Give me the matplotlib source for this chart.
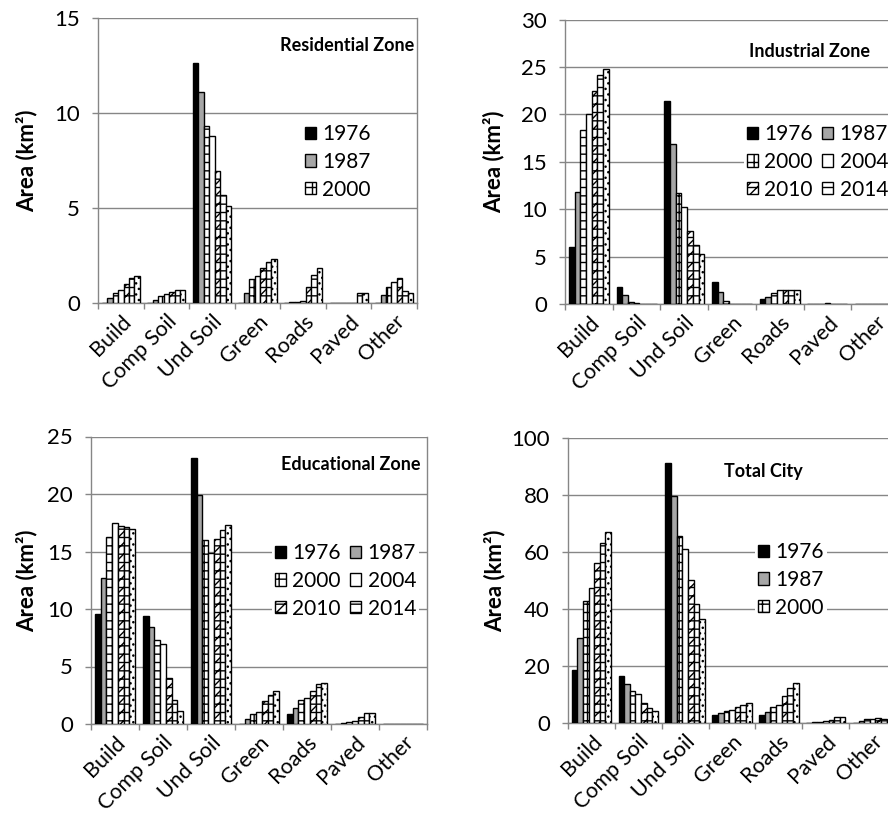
import matplotlib
matplotlib.use("Agg")
import matplotlib.pyplot as plt
from matplotlib.patches import Rectangle
import numpy as np

plt.rcParams['font.family'] = ['Lato', 'DejaVu Sans']
plt.rcParams['hatch.linewidth'] = 1.0

categories = ["Build", "Comp Soil", "Und Soil", "Green", "Roads", "Paved", "Other"]
years = ["1976", "1987", "2000", "2004", "2010", "2014", "2016"]

# values per category, one list per year (km2)
residential = {
    "1976": [0.0, 0.0, 12.64, 0.0, 0.02, 0.0, 0.0],
    "1987": [0.25, 0.18, 11.1, 0.53, 0.03, 0.0, 0.42],
    "2000": [0.53, 0.39, 9.3, 1.27, 0.05, 0.0, 0.86],
    "2004": [0.69, 0.47, 8.77, 1.4, 0.08, 0.0, 1.12],
    "2010": [1.0, 0.6, 6.94, 1.82, 0.82, 0.0, 1.3],
    "2014": [1.32, 0.69, 5.71, 2.18, 1.47, 0.55, 0.65],
    "2016": [1.44, 0.69, 5.13, 2.3, 1.82, 0.55, 0.51],
}
industrial = {
    "1976": [5.96, 1.75, 21.4, 2.35, 0.5, 0.0, 0.0],
    "1987": [11.8, 0.95, 16.9, 1.3, 0.77, 0.0, 0.0],
    "2000": [18.3, 0.2, 11.75, 0.35, 1.2, 0.0, 0.0],
    "2004": [20.0, 0.07, 10.25, 0.05, 1.45, 0.1, 0.0],
    "2010": [22.5, 0.05, 7.7, 0.05, 1.47, 0.0, 0.0],
    "2014": [24.1, 0.05, 6.2, 0.05, 1.47, 0.0, 0.0],
    "2016": [24.8, 0.05, 5.3, 0.05, 1.47, 0.0, 0.0],
}
educational = {
    "1976": [9.6, 9.36, 23.1, 0.0, 0.84, 0.0, 0.0],
    "1987": [12.7, 8.4, 19.9, 0.43, 1.36, 0.06, 0.0],
    "2000": [16.3, 7.28, 16.0, 0.87, 2.1, 0.2, 0.0],
    "2004": [17.5, 6.96, 14.9, 1.04, 2.3, 0.3, 0.0],
    "2010": [17.2, 4.0, 16.1, 1.97, 2.87, 0.64, 0.0],
    "2014": [17.1, 2.06, 16.9, 2.55, 3.45, 0.93, 0.0],
    "2016": [17.0, 1.1, 17.3, 2.84, 3.6, 1.0, 0.0],
}
total_city = {
    "1976": [18.75, 16.5, 91.2, 2.8, 2.8, 0.0, 0.0],
    "1987": [29.7, 13.8, 79.8, 3.4, 4.0, 0.2, 0.8],
    "2000": [42.8, 11.25, 65.6, 4.3, 5.7, 0.4, 1.3],
    "2004": [47.2, 10.3, 61.1, 4.56, 6.3, 0.7, 1.3],
    "2010": [56.3, 7.15, 50.2, 5.5, 9.6, 1.05, 1.75],
    "2014": [63.3, 5.3, 41.7, 6.3, 12.4, 2.2, 1.3],
    "2016": [66.9, 4.1, 36.5, 6.9, 13.9, 2.2, 0.8],
}

styles = {
    "1976": dict(facecolor="black", hatch=None),
    "1987": dict(facecolor="#a6a6a6", hatch=None),
    "2000": dict(facecolor="white", hatch="++"),
    "2004": dict(facecolor="white", hatch=None),
    "2010": dict(facecolor="white", hatch="///--"),
    "2014": dict(facecolor="white", hatch="--"),
    "2016": dict(facecolor="white", hatch="..."),
}

W, H = 888, 823
fig = plt.figure(figsize=(W / 100, H / 100), dpi=100)

GRAY = "#868686"
XFS = 15.5
YFS = 16
LFS = 15

panels = [
    (residential, "Residential Zone", (98, 417, 18, 303), 15, 5, (0.99, 0.905), "right", 1, 3, (302, 162), -0.19),
    (industrial, "Industrial Zone", (565, 899, 19.5, 304), 30, 5, (0.913, 0.886), "right", 2, 6, (744, 162), -0.18),
    (educational, "Educational Zone", (91, 427, 436.5, 724), 25, 5, (0.982, 0.904), "right", 2, 6, (272, 581), -0.16),
    (total_city, "Total City", (568, 896, 438, 723), 100, 20, (0.595, 0.881), "center", 1, 3, (755, 580), -0.19),
]

x = np.arange(len(categories))
w = 0.12

for data, title, (l, r, t, b), ymax, ystep, tpos, tha, ncol, nleg, (lx, ly), ylx in panels:
    ax = fig.add_axes([l / W, 1 - b / H, (r - l) / W, (b - t) / H])
    handles = []
    for j, yr in enumerate(years):
        st = styles[yr]
        ax.bar(x + (j - 3) * w, data[yr], width=w, facecolor=st["facecolor"],
               edgecolor="black", linewidth=1.0, hatch=st["hatch"], zorder=3)
        handles.append(Rectangle((0, 0), 1, 1, facecolor=st["facecolor"], edgecolor="black",
                                 linewidth=1.0, hatch=st["hatch"]))
    ax.set_xlim(-0.5, len(categories) - 0.5)
    ax.set_ylim(0, ymax)
    ax.set_yticks(np.arange(0, ymax + 0.1, ystep))
    ax.yaxis.grid(True, color=GRAY, linewidth=1.0, zorder=0)
    ax.set_axisbelow(True)
    for s in ["left", "bottom", "right"]:
        ax.spines[s].set_color(GRAY)
        ax.spines[s].set_linewidth(1.0)
    ax.spines["top"].set_visible(False)
    ax.set_xticks(x)
    ax.set_xticklabels(categories, rotation=45, ha="right", rotation_mode="anchor", fontsize=XFS)
    ax.tick_params(axis="x", which="major", length=0, pad=6)
    ax.set_xticks(np.arange(-0.5, len(categories)), minor=True)
    ax.tick_params(axis="x", which="minor", length=4, color=GRAY, width=1)
    ax.tick_params(axis="y", length=4, color=GRAY, width=1, labelsize=YFS, pad=9)
    ax.set_ylabel("Area (km²)", fontsize=16, fontweight="bold")
    ax.yaxis.set_label_coords(ylx, 0.5)
    ax.text(tpos[0], tpos[1], title, transform=ax.transAxes, ha=tha, va="center",
            fontsize=13, fontweight="bold", zorder=6)
    idx = list(range(nleg))
    if ncol == 2:
        idx = [0, 2, 4, 1, 3, 5]
    leg = ax.legend([handles[i] for i in idx], [years[i] for i in idx], ncol=ncol, loc="center left",
                    bbox_to_anchor=(lx / W, 1 - ly / H), bbox_transform=fig.transFigure,
                    fontsize=LFS, frameon=True, facecolor="white", edgecolor="none",
                    framealpha=1.0, fancybox=False, borderpad=0.15, borderaxespad=0,
                    handlelength=0.53, handleheight=0.53, handletextpad=0.3,
                    labelspacing=0.37, columnspacing=0.45)
    leg.set_zorder(5)

fig.savefig("out.png", dpi=100)
